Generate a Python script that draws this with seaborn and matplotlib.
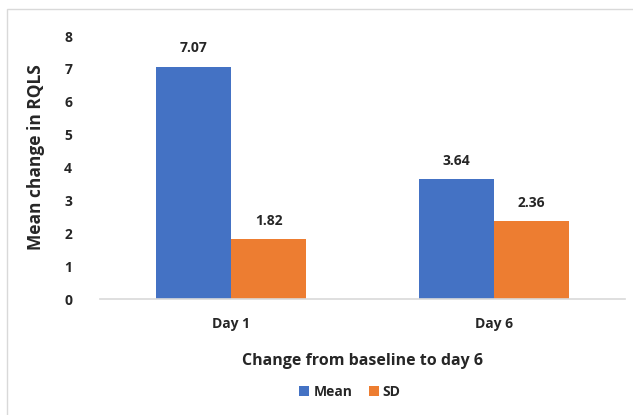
import matplotlib
matplotlib.use("Agg")
import matplotlib.pyplot as plt
import pandas as pd
import seaborn as sns
from matplotlib.patches import Rectangle

days = ["Day 1", "Day 6"]
series = ["Mean", "SD"]
mean_values = [7.07, 3.64]
sd_values = [1.82, 2.36]
colors = ["#4472C4", "#ED7D31"]

df = pd.DataFrame({
    "day": days * 2,
    "stat": ["Mean"] * len(days) + ["SD"] * len(days),
    "value": mean_values + sd_values,
})

sns.set_theme(style="white")
plt.rcParams["font.family"] = ["Open Sans", "DejaVu Sans"]

fig = plt.figure(figsize=(6.33, 4.15), dpi=100)
ax = fig.add_axes([100 / 633, 1 - 299 / 415, 525 / 633, (299 - 36) / 415])

sns.barplot(data=df, x="day", y="value", hue="stat", palette=colors,
            width=0.57, ax=ax, legend=True, saturation=1, linewidth=0)

for container in ax.containers:
    ax.bar_label(container, fmt="%.2f", padding=8, fontsize=10,
                 fontweight="bold", color="#262626")

ax.set_ylim(0, 8)
ax.set_xlim(-0.5, 1.5)
ax.set_yticks(range(0, 9))
ax.tick_params(axis="both", length=0, labelsize=10, colors="#262626")
for lbl in ax.get_xticklabels() + ax.get_yticklabels():
    lbl.set_fontweight("bold")
ax.tick_params(axis="y", pad=20)
ax.tick_params(axis="x", pad=13)

for side in ["top", "right", "left"]:
    ax.spines[side].set_visible(False)
ax.spines["bottom"].set_color("#D9D9D9")
ax.spines["bottom"].set_linewidth(1.2)

ax.set_xlabel("Change from baseline to day 6", fontsize=11.5, fontweight="bold",
              color="#262626", labelpad=16)
ax.set_ylabel("Mean change in RQLS", fontsize=12.5, fontweight="bold",
              color="#262626")
ax.yaxis.set_label_coords(-0.105, 0.54)

ax.legend(loc="center", bbox_to_anchor=(350 / 633, 1 - 392 / 415),
          bbox_transform=fig.transFigure, ncol=2, frameon=False,
          handlelength=0.7, handleheight=0.7, handletextpad=0.3,
          columnspacing=1.2, prop={"weight": "bold", "size": 10})

fig.patches.append(Rectangle((7 / 633, -0.05), 1.1, 1 - 9 / 415 + 0.05,
                             transform=fig.transFigure, fill=False,
                             edgecolor="#D9D9D9", linewidth=1.0))

fig.savefig("out.png", dpi=100)
